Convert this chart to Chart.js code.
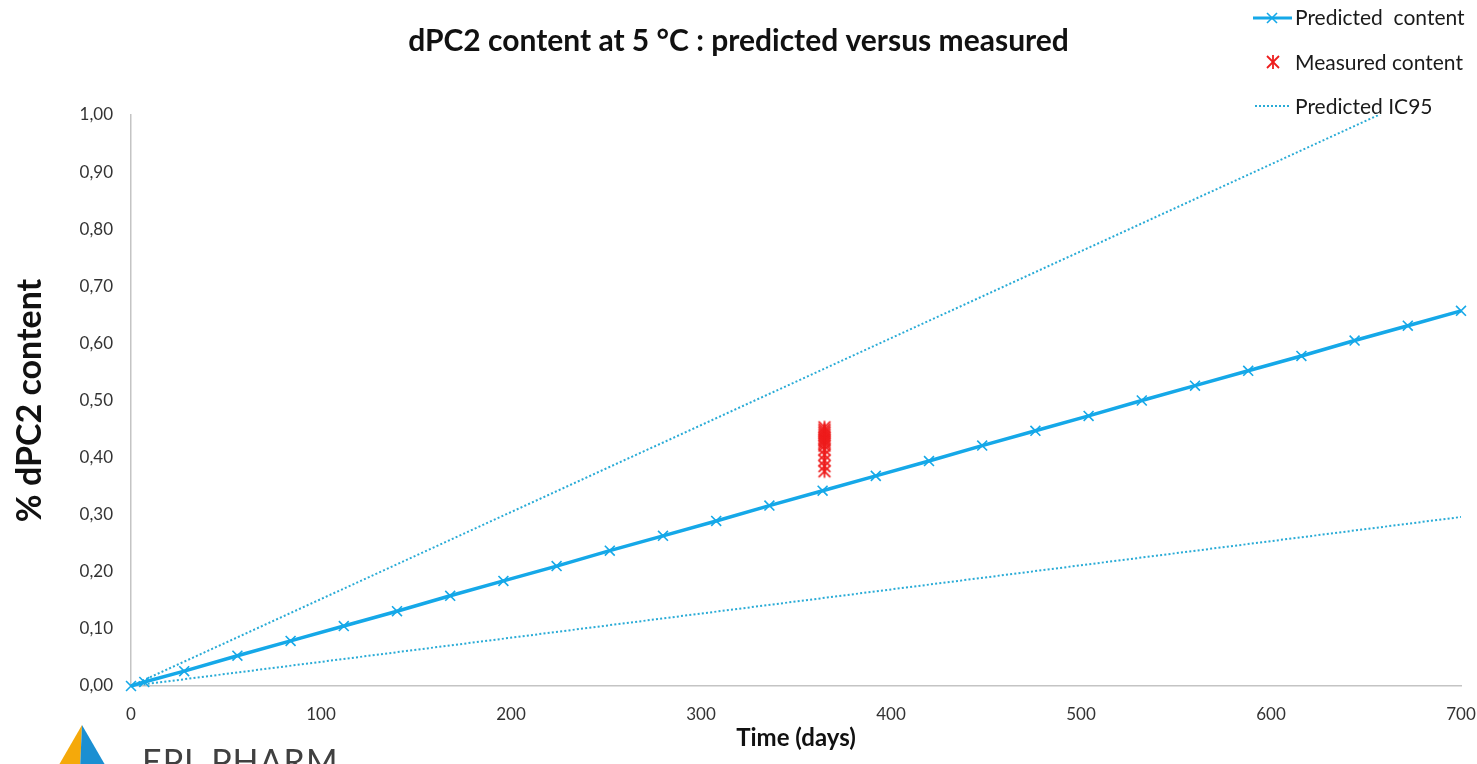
<!DOCTYPE html>
<html>
<head>
<meta charset="utf-8">
<script src="https://cdn.jsdelivr.net/npm/chart.js@4.4.1/dist/chart.umd.min.js"></script>
<style>
  html, body { margin: 0; padding: 0; background: #ffffff; }
  #wrap { position: relative; width: 1477px; height: 764px; overflow: hidden; font-family: Lato, "Open Sans", sans-serif; }
  #c { position: absolute; left: 0; top: 0; }
  .leg { position: absolute; left: 1295px; font-size: 21px; color: #1a1a1a; white-space: pre; line-height: 22px; }
  #logoText { position: absolute; left: 142px; top: 741px; font-size: 34px; color: #404040; letter-spacing: 1px; font-weight: 400; white-space: pre; line-height: 40px; }
  #logo { position: absolute; left: 50px; top: 722px; }
</style>
</head>
<body>
<div id="wrap">
  <canvas id="c" width="1477" height="764"></canvas>
  <svg id="legSvg" width="1477" height="130" style="position:absolute;left:0;top:0;pointer-events:none">
    <line x1="1253" y1="18" x2="1292" y2="18" stroke="#15a8e8" stroke-width="3.2"/>
    <line x1="1267" y1="13" x2="1277" y2="23" stroke="#15a8e8" stroke-width="1.6"/>
    <line x1="1267" y1="23" x2="1277" y2="13" stroke="#15a8e8" stroke-width="1.6"/>
    <line x1="1273" y1="55" x2="1273" y2="69" stroke="#ee1c1c" stroke-width="1.8"/>
    <line x1="1267" y1="56" x2="1279" y2="68" stroke="#ee1c1c" stroke-width="1.8"/>
    <line x1="1267" y1="68" x2="1279" y2="56" stroke="#ee1c1c" stroke-width="1.8"/>
    <line x1="1255" y1="106" x2="1289" y2="106" stroke="#29abd6" stroke-width="2" stroke-dasharray="2,2"/>
  </svg>
  <div class="leg" style="top:6px">Predicted  content</div>
  <div class="leg" style="top:51px">Measured content</div>
  <div class="leg" style="top:95px">Predicted IC95</div>
  <svg id="logo" width="70" height="50">
    <polygon points="32,3 6,48 30,48" fill="#f5a90a"/>
    <polygon points="32,3 30,48 58,48" fill="#1b8fd2"/>
  </svg>
  <div id="logoText">EPL PHARM</div>
</div>
<script>
// ---- data ----
const predDays = [0, 7, 28, 56, 84, 112, 140, 168, 196, 224, 252, 280, 308, 336, 364, 392, 420, 448, 476, 504, 532, 560, 588, 616, 644, 672, 700];
const predValues = [0, 0.007, 0.026, 0.053, 0.079, 0.105, 0.131, 0.158, 0.184, 0.210, 0.237, 0.263, 0.289, 0.316, 0.342, 0.368, 0.394, 0.421, 0.447, 0.473, 0.500, 0.526, 0.552, 0.578, 0.605, 0.631, 0.657];
const measDays = [365, 365, 365, 365, 365, 365, 365, 365, 365, 365, 365, 365, 365, 365, 365, 365];
const measValues = [0.453, 0.449, 0.446, 0.443, 0.440, 0.437, 0.434, 0.431, 0.428, 0.425, 0.421, 0.414, 0.405, 0.395, 0.385, 0.376];
const icDays = [0, 700];
const icUpper = [0, 1.066];
const icLower = [0, 0.296];
const xTickLabels = ['0', '100', '200', '300', '400', '500', '600', '700'];
const yTickLabels = ['0,00', '0,10', '0,20', '0,30', '0,40', '0,50', '0,60', '0,70', '0,80', '0,90', '1,00'];

const pts = (xs, ys) => xs.map((x, i) => ({ x: x, y: ys[i] }));

// asterisk marker (Excel "star")
function starMarker(color) {
  const s = 18, c = document.createElement('canvas');
  c.width = s; c.height = s;
  const g = c.getContext('2d');
  g.strokeStyle = color; g.lineWidth = 1.7;
  const m = s / 2, r = 6.5;
  g.beginPath();
  g.moveTo(m, m - r); g.lineTo(m, m + r);
  g.moveTo(m - r * 0.9, m - r * 0.9); g.lineTo(m + r * 0.9, m + r * 0.9);
  g.moveTo(m - r * 0.9, m + r * 0.9); g.lineTo(m + r * 0.9, m - r * 0.9);
  g.stroke();
  return c;
}

const blue = '#15a8e8';
const dotBlue = '#29abd6';

new Chart(document.getElementById('c'), {
  type: 'scatter',
  data: {
    datasets: [
      {
        label: 'Predicted IC95 upper',
        data: pts(icDays, icUpper),
        showLine: true, borderColor: dotBlue, borderWidth: 2, borderDash: [2, 2.2],
        pointRadius: 0, fill: false, order: 3
      },
      {
        label: 'Predicted IC95 lower',
        data: pts(icDays, icLower),
        showLine: true, borderColor: dotBlue, borderWidth: 2, borderDash: [2, 2.2],
        pointRadius: 0, fill: false, order: 3
      },
      {
        label: 'Predicted  content',
        data: pts(predDays, predValues),
        showLine: true, borderColor: blue, borderWidth: 3.5,
        pointStyle: 'crossRot', pointRadius: 7, pointBorderColor: blue, pointBorderWidth: 1.6,
        fill: false, order: 2, clip: 8
      },
      {
        label: 'Measured content',
        data: pts(measDays, measValues),
        showLine: false,
        pointStyle: starMarker('#ee1c1c'), pointRadius: 9,
        order: 1
      }
    ]
  },
  options: {
    responsive: false,
    animation: false,
    layout: { padding: { top: 0, right: 0, left: 0, bottom: 0 } },
    plugins: {
      legend: { display: false },
      tooltip: { enabled: false },
      title: {
        display: true,
        text: 'dPC2 content at 5 °C : predicted versus measured',
        color: '#111111',
        font: { family: 'Lato', size: 30, weight: 'bold' },
        padding: { top: 23, bottom: 56 }
      }
    },
    scales: {
      x: {
        type: 'linear', min: 0, max: 700,
        grid: { display: false, drawTicks: false },
        border: { display: true, color: '#c4c4c4', width: 1.5 },
        ticks: {
          stepSize: 100, padding: 18, color: '#333333',
          font: { family: 'Lato', size: 17 },
          maxRotation: 0,
          callback: (v, i) => xTickLabels[i]
        },
        title: {
          display: true, text: 'Time (days)', color: '#111111',
          font: { family: 'Lato', size: 24, weight: 'bold' },
          padding: { top: 0, bottom: 11 }
        },
        afterFit: (s) => { s.height = 78; s.paddingRight = 16; s.paddingLeft = 0; }
      },
      y: {
        type: 'linear', min: 0, max: 1,
        grid: { display: false, drawTicks: false },
        border: { display: true, color: '#c4c4c4', width: 1.5 },
        ticks: {
          stepSize: 0.1, padding: 18, color: '#333333',
          font: { family: 'Lato', size: 17 },
          callback: (v, i) => yTickLabels[i]
        },
        title: {
          display: true, text: '% dPC2 content', color: '#111111',
          font: { family: 'Lato', size: 34, weight: 'bold' },
          padding: { top: 10, bottom: 0 }
        },
        afterFit: (s) => { s.width = 131; }
      }
    }
  }
});
</script>
</body>
</html>
